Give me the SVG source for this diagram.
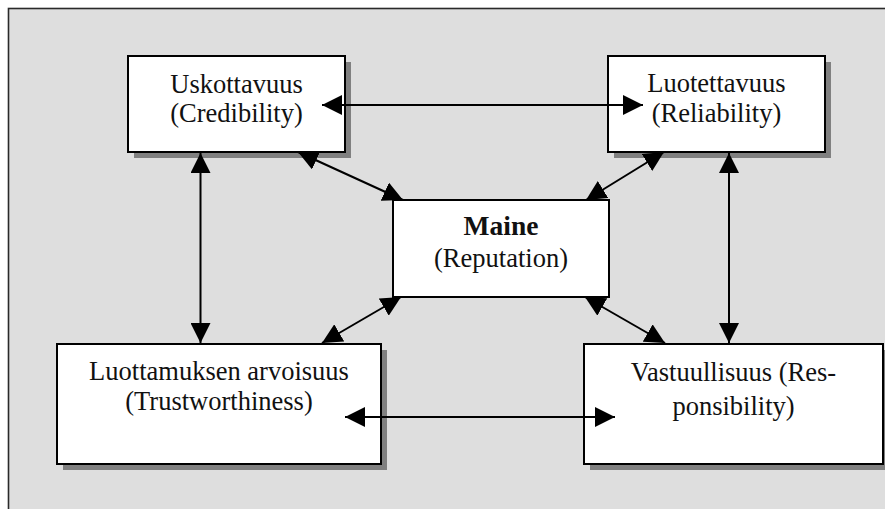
<svg xmlns="http://www.w3.org/2000/svg" width="885" height="509" viewBox="0 0 885 509">
  <style>
    .frame { fill: #dedede; stroke: #2a2a2a; stroke-width: 1.6; }
    .box { fill: #ffffff; stroke: #000000; stroke-width: 2; }
    .shadow { fill: #808080; }
    .label { font-family: 'Liberation Serif', 'DejaVu Serif', serif; font-size: 26.5px; fill: #111111; text-anchor: middle; }
    .bold { font-weight: bold; font-size: 27.5px; }
    .link { stroke: #000000; stroke-width: 2; fill: none; marker-start: url(#head); marker-end: url(#head); }
  </style>
  <defs>
    <marker id="head" viewBox="0 0 20 20" refX="20" refY="10" markerWidth="20" markerHeight="20" markerUnits="userSpaceOnUse" orient="auto-start-reverse">
      <path d="M0,0 L20,10 L0,20 Z" fill="#000000"/>
    </marker>
  </defs>

  <rect width="885" height="509" fill="#ffffff"/>
  <rect class="frame" x="8.5" y="8.5" width="900" height="600"/>

  <g id="uskottavuus">
    <rect class="shadow" x="134" y="62" width="217" height="96"/>
    <rect class="box" x="128" y="56" width="217" height="96"/>
    <text class="label" x="236.5" y="93">Uskottavuus</text>
    <text class="label" x="236.5" y="122">(Credibility)</text>
  </g>

  <g id="luotettavuus">
    <rect class="shadow" x="614" y="62" width="217" height="96"/>
    <rect class="box" x="608" y="56" width="217" height="96"/>
    <text class="label" x="716.5" y="92">Luotettavuus</text>
    <text class="label" x="716.5" y="122">(Reliability)</text>
  </g>

  <g id="maine">
    <rect class="box" x="393" y="200" width="216" height="97"/>
    <text class="label bold" x="501" y="235">Maine</text>
    <text class="label" x="501" y="267">(Reputation)</text>
  </g>

  <g id="luottamuksen-arvoisuus">
    <rect class="shadow" x="63" y="350" width="324" height="120"/>
    <rect class="box" x="57" y="344" width="324" height="120"/>
    <text class="label" x="219" y="380">Luottamuksen arvoisuus</text>
    <text class="label" x="219" y="410">(Trustworthiness)</text>
  </g>

  <g id="vastuullisuus">
    <rect class="shadow" x="590" y="350" width="299" height="120"/>
    <rect class="box" x="584" y="344" width="299" height="120"/>
    <text class="label" x="733.5" y="381">Vastuullisuus (Res-</text>
    <text class="label" x="733.5" y="415">ponsibility)</text>
  </g>

  <g id="connectors">
    <line class="link" x1="322" y1="105" x2="643" y2="105"/>
    <line class="link" x1="345" y1="417" x2="615" y2="417"/>
    <line class="link" x1="200.5" y1="153" x2="200.5" y2="343"/>
    <line class="link" x1="729" y1="153" x2="729" y2="343"/>
    <line class="link" x1="298" y1="152" x2="403" y2="200"/>
    <line class="link" x1="664" y1="152" x2="586" y2="200"/>
    <line class="link" x1="401" y1="297" x2="322" y2="343"/>
    <line class="link" x1="585" y1="297" x2="665" y2="343"/>
  </g>
</svg>
